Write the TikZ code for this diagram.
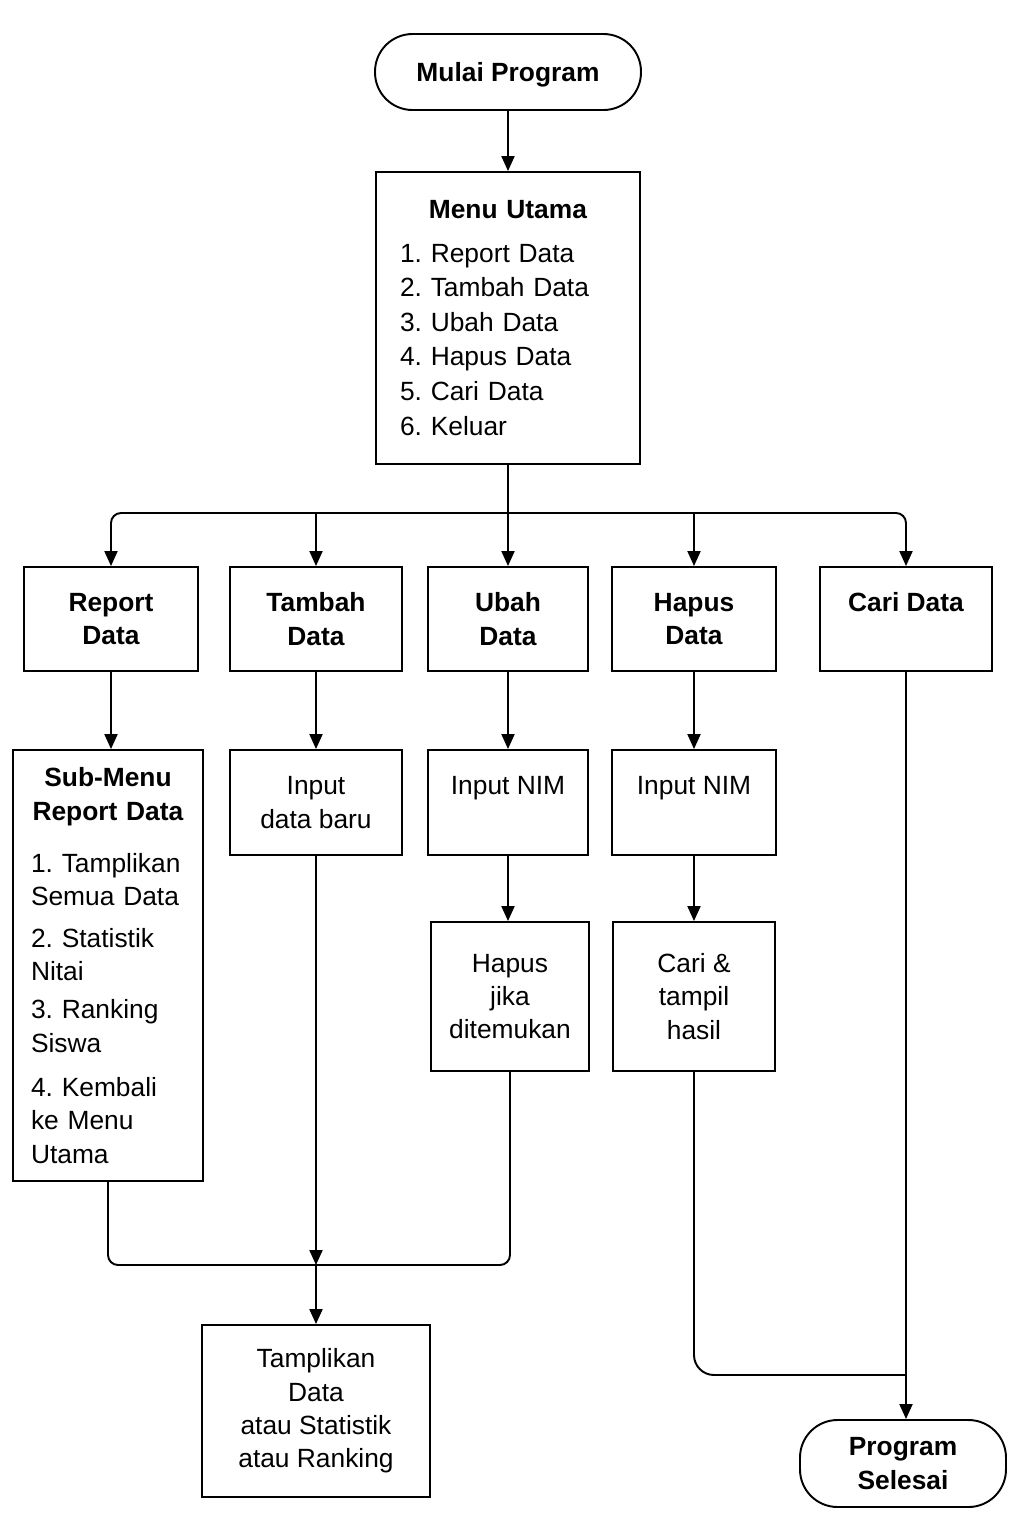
\documentclass[tikz,border=0pt]{standalone}
\usepackage{fontspec}
\setmainfont{Liberation Sans}
\usetikzlibrary{arrows.meta}
\frenchspacing

\begin{document}
\begin{tikzpicture}[x=0.02cm,y=-0.02cm,line width=1.1pt,
 box/.style={shape=rectangle,draw=black,fill=white,align=center,inner sep=0pt,font=\fontsize{15}{19}\selectfont},
 term/.style={box,rounded corners=0.75cm,font=\fontsize{15}{19}\selectfont\bfseries},
 arrow/.style={-{Triangle[length=0.3cm,width=0.26cm]}}]
 \useasboundingbox (0,0) rectangle (1024,1536);
 \node (mulai) at (508,72) [term,minimum width=5.32cm,minimum height=1.52cm,text depth=0pt] {Mulai Program};
 \node (menu utama) at (508,318) [box,minimum width=5.28cm,minimum height=5.84cm,text width=4.32cm,align=left,font=\fontsize{15}{19.7}\selectfont] {\makebox[\linewidth]{\textbf{Menu Utama}}\\[5pt] 1. Report Data\\ 2. Tambah Data\\ 3. Ubah Data\\ 4. Hapus Data\\ 5. Cari Data\\ 6. Keluar};
 \node (report data) at (111,619) [box,minimum width=3.48cm,minimum height=2.08cm,font=\fontsize{15}{19}\selectfont\bfseries] {Report\\Data};
 \node (tambah data) at (316,619) [box,minimum width=3.44cm,minimum height=2.08cm,font=\fontsize{15}{19}\selectfont\bfseries] {Tambah\\Data};
 \node (ubah data) at (508,619) [box,minimum width=3.2cm,minimum height=2.08cm,font=\fontsize{15}{19}\selectfont\bfseries] {Ubah\\Data};
 \node (hapus data) at (694,619) [box,minimum width=3.28cm,minimum height=2.08cm,font=\fontsize{15}{19}\selectfont\bfseries] {Hapus\\Data};
 \node (cari data) at (906,619) [box,minimum width=3.44cm,minimum height=2.08cm,font=\fontsize{15}{19}\selectfont\bfseries] {Cari Data\\\phantom{Data}};
 \node (sub menu) at (108,965.5) [box,minimum width=3.8cm,minimum height=8.62cm,text width=3.08cm,align=left] {\makebox[\linewidth]{\textbf{Sub-Menu}}\\ \makebox[\linewidth]{\textbf{Report Data}}\\[10.8pt] 1. Tamplikan\\ Semua Data\\[4.5pt] 2. Statistik\\ Nitai\\[2.8pt] 3. Ranking\\ Siswa\\[6.2pt] 4. Kembali\\ ke Menu\\ Utama};
 \node (input baru) at (316,802.5) [box,minimum width=3.44cm,minimum height=2.1cm] {Input\\data baru};
 \node (input nim ubah) at (508,802.5) [box,minimum width=3.2cm,minimum height=2.1cm] {Input NIM\\\phantom{data}};
 \node (input nim hapus) at (694,802.5) [box,minimum width=3.28cm,minimum height=2.1cm] {Input NIM\\\phantom{data}};
 \node (hapus jika) at (510,996.5) [box,minimum width=3.16cm,minimum height=2.98cm] {Hapus\\jika\\ditemukan};
 \node (cari tampil) at (694,996.5) [box,minimum width=3.24cm,minimum height=2.98cm] {Cari \&\\tampil\\hasil};
 \node (tamplikan) at (316,1411) [box,minimum width=4.56cm,minimum height=3.44cm] {Tamplikan\\Data\\atau Statistik\\atau Ranking};
 \node (selesai) at (903,1463.5) [term,minimum width=4.12cm,minimum height=1.74cm] {Program\\Selesai};
 \coordinate (cabang) at (508,513);
 \coordinate (gabung) at (316,1265);
 \coordinate (sambung) at (906,1375);
 \draw[arrow] (mulai) -- (menu utama);
 \draw (menu utama) -- (cabang);
 \draw[arrow,rounded corners=0.2cm] (cabang) -| (report data);
 \draw[arrow] (cabang) -| (tambah data);
 \draw[arrow] (cabang) -- (ubah data);
 \draw[arrow] (cabang) -| (hapus data);
 \draw[arrow,rounded corners=0.2cm] (cabang) -| (cari data);
 \draw[arrow] (report data.south) -- (report data.south |- sub menu.north);
 \draw[arrow] (tambah data) -- (input baru);
 \draw[arrow] (ubah data) -- (input nim ubah);
 \draw[arrow] (hapus data) -- (input nim hapus);
 \draw[arrow] (input nim ubah.south) -- (input nim ubah.south |- hapus jika.north);
 \draw[arrow] (input nim hapus.south) -- (input nim hapus.south |- cari tampil.north);
 \draw[rounded corners=0.2cm] (sub menu.south) |- (gabung) -| (hapus jika.south);
 \draw[arrow] (input baru) -- (gabung);
 \draw[arrow] (gabung) -- (tamplikan);
 \draw[rounded corners=0.4cm] (cari tampil.south) |- (sambung);
 \draw[arrow] (cari data.south) -- (cari data.south |- selesai.north);
\end{tikzpicture}
\end{document}
